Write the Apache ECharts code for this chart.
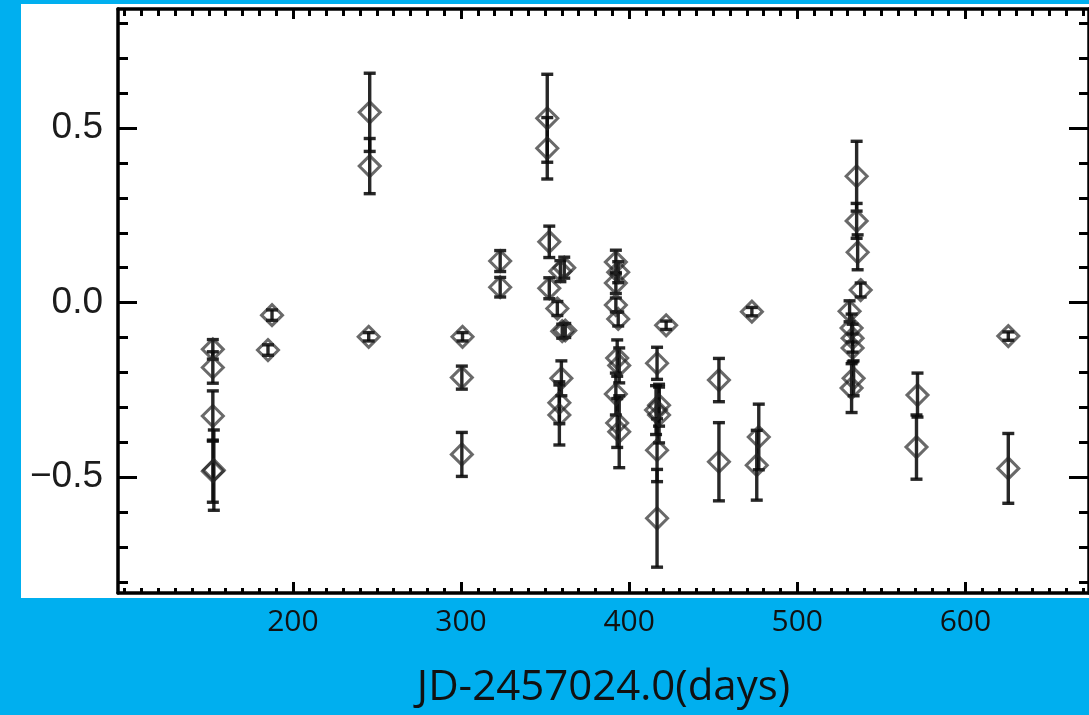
<!DOCTYPE html>
<html>
<head>
<meta charset="utf-8">
<title>Light curve</title>
<script src="https://cdn.jsdelivr.net/npm/echarts@6/dist/echarts.min.js"></script>
<style>
  html, body { margin: 0; padding: 0; background: #00AFEF; }
  #chart { width: 1089px; height: 715px; }
</style>
</head>
<body>
<div id="chart"></div>
<script>
// Observation epochs (JD - 2457024.0, days)
const days = [
  152.4, 152.4, 152.4, 152.4, 153.0,
  185.2, 187.6,
  245.7, 245.7, 245.1,
  300.9, 300.5, 300.5,
  323.3, 323.3,
  351.3, 351.3, 352.5, 359.1, 361.4, 352.5, 357.3, 360.2, 362.0,
  359.7, 358.5, 358.5,
  392.1, 393.5, 392.1, 392.1, 393.5, 392.9, 394.1, 392.1, 392.9, 394.1,
  416.6, 417.8, 416.0, 417.8, 416.6, 416.6, 422.0,
  453.4, 453.4,
  473.0, 477.1, 475.9,
  535.3, 535.3, 535.9, 537.7, 531.1, 532.3, 532.9, 532.9, 533.5, 532.3,
  571.5, 570.9,
  625.5, 625.5
];

// Measured values at each epoch
const values = [
  -0.134, -0.186, -0.325, -0.483, -0.480,
  -0.136, -0.036,
  0.545, 0.391, -0.098,
  -0.098, -0.215, -0.435,
  0.119, 0.044,
  0.528, 0.442, 0.174, 0.090, 0.100, 0.041, -0.017, -0.082, -0.080,
  -0.217, -0.287, -0.322,
  0.116, 0.087, 0.056, -0.007, -0.047, -0.159, -0.180, -0.262, -0.345, -0.370,
  -0.174, -0.294, -0.308, -0.322, -0.423, -0.618, -0.065,
  -0.222, -0.456,
  -0.026, -0.385, -0.466,
  0.362, 0.234, 0.144, 0.036, -0.025, -0.073, -0.102, -0.130, -0.217, -0.245,
  -0.265, -0.414,
  -0.096, -0.475
];

// One-sigma uncertainties
const errors = [
  0.028, 0.045, 0.072, 0.089, 0.115,
  0.015, 0.015,
  0.112, 0.079, 0.012,
  0.012, 0.033, 0.063,
  0.030, 0.028,
  0.126, 0.088, 0.045, 0.030, 0.030, 0.030, 0.020, 0.020, 0.020,
  0.050, 0.060, 0.086,
  0.034, 0.030, 0.030, 0.020, 0.020, 0.052, 0.050, 0.060, 0.070, 0.103,
  0.046, 0.060, 0.070, 0.080, 0.090, 0.140, 0.012,
  0.062, 0.112,
  0.012, 0.094, 0.100,
  0.100, 0.050, 0.050, 0.020, 0.030, 0.040, 0.040, 0.040, 0.050, 0.070,
  0.063, 0.092,
  0.012, 0.100
];

// Axis ticks
const xMajorTicks = [200, 300, 400, 500, 600];
const xMinorTicks = [100, 110, 120, 130, 140, 150, 160, 170, 180, 190,
  210, 220, 230, 240, 250, 260, 270, 280, 290,
  310, 320, 330, 340, 350, 360, 370, 380, 390,
  410, 420, 430, 440, 450, 460, 470, 480, 490,
  510, 520, 530, 540, 550, 560, 570, 580, 590,
  610, 620, 630, 640, 650, 660, 670];
const yMajorTicks = [-0.5, 0, 0.5];
const yMinorTicks = [-0.8, -0.7, -0.6, -0.4, -0.3, -0.2, -0.1,
  0.1, 0.2, 0.3, 0.4, 0.6, 0.7, 0.8];

const xMin = 96, xMax = 673.5;
const yMin = -0.832, yMax = 0.841;

const points = days.map((d, i) => [d, values[i]]);
const bars = days.map((d, i) => [d, values[i] - errors[i], values[i] + errors[i]]);

const ink = '#000';
const frameWidth = 3.5;
const tickStyle = { color: ink, width: 3 };

function xAxisDef(position, ticks, len, showLine, withLabels) {
  const ax = {
    type: 'value', position: position, min: xMin, max: xMax,
    axisLine: { show: showLine, onZero: false, lineStyle: { color: ink, width: frameWidth } },
    axisTick: { show: true, inside: true, length: len, customValues: ticks, lineStyle: tickStyle },
    axisLabel: { show: false },
    splitLine: { show: false }
  };
  if (withLabels) {
    ax.axisLabel = {
      show: true, customValues: xMajorTicks, margin: 14,
      fontFamily: 'Open Sans', fontSize: 30, color: '#111'
    };
    ax.name = 'JD-2457024.0(days)';
    ax.nameLocation = 'middle';
    ax.nameGap = 74;
    ax.nameTextStyle = { fontFamily: 'Open Sans', fontSize: 42, color: '#111' };
  }
  return ax;
}

function yAxisDef(position, ticks, len, showLine, withLabels) {
  const ax = {
    type: 'value', position: position, min: yMin, max: yMax,
    axisLine: { show: showLine, onZero: false, lineStyle: { color: ink, width: frameWidth } },
    axisTick: { show: true, inside: true, length: len, customValues: ticks, lineStyle: tickStyle },
    axisLabel: { show: false },
    splitLine: { show: false }
  };
  if (withLabels) {
    ax.axisLabel = {
      show: true, customValues: yMajorTicks, margin: 15,
      fontFamily: 'Liberation Sans', fontSize: 37, color: '#1c1c1c',
      formatter: function (v) {
        const s = Math.abs(v).toFixed(1);
        return v < -1e-9 ? '\u2212' + s : s;
      }
    };
  }
  return ax;
}

const chart = echarts.init(document.getElementById('chart'), null, { renderer: 'canvas' });

chart.setOption({
  animation: false,
  backgroundColor: '#00AFEF',
  graphic: {
    elements: [{
      type: 'rect', z: -10, silent: true,
      shape: { x: 21, y: 4, width: 1068, height: 594 },
      style: { fill: '#ffffff' }
    }]
  },
  grid: { left: 118, top: 9, right: -2, bottom: 122, containLabel: false },
  xAxis: [
    xAxisDef('bottom', xMajorTicks, 11, true, true),
    xAxisDef('bottom', xMinorTicks, 5, false, false),
    xAxisDef('top', xMajorTicks, 10, true, false),
    xAxisDef('top', xMinorTicks, 7, false, false)
  ],
  yAxis: [
    yAxisDef('left', yMajorTicks, 19, true, true),
    yAxisDef('left', yMinorTicks, 10, false, false),
    yAxisDef('right', yMajorTicks, 20, true, false),
    yAxisDef('right', yMinorTicks, 10, false, false)
  ],
  series: [
    {
      type: 'custom',
      name: 'error',
      silent: true,
      xAxisIndex: 0, yAxisIndex: 0,
      encode: { x: 0, y: [1, 2] },
      data: bars,
      z: 3,
      renderItem: function (params, api) {
        const x = api.value(0);
        const lo = api.coord([x, api.value(1)]);
        const hi = api.coord([x, api.value(2)]);
        const hw = 6;
        const style = { stroke: 'rgba(10,10,10,0.88)', lineWidth: 3.4 };
        return {
          type: 'group',
          children: [
            { type: 'line', shape: { x1: hi[0], y1: hi[1], x2: lo[0], y2: lo[1] }, style: style },
            { type: 'line', shape: { x1: hi[0] - hw, y1: hi[1], x2: hi[0] + hw, y2: hi[1] }, style: style },
            { type: 'line', shape: { x1: lo[0] - hw, y1: lo[1], x2: lo[0] + hw, y2: lo[1] }, style: style }
          ]
        };
      }
    },
    {
      type: 'scatter',
      name: 'data',
      silent: true,
      xAxisIndex: 0, yAxisIndex: 0,
      data: points,
      z: 4,
      symbol: 'diamond',
      symbolSize: [21, 21],
      itemStyle: {
        color: 'rgba(255,255,255,0)',
        borderColor: 'rgba(35,35,35,0.85)',
        borderWidth: 3
      }
    }
  ]
});
</script>
</body>
</html>
